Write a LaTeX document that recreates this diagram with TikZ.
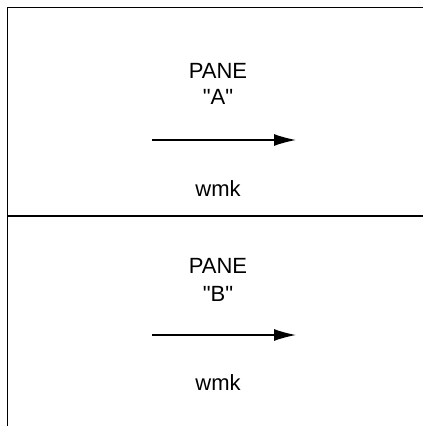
\documentclass[tikz,border=0pt]{standalone}
\usepackage{fontspec}
\setmainfont{Liberation Sans}
\usetikzlibrary{arrows.meta,positioning}

\begin{document}
\begin{tikzpicture}[
x=1pt,y=-1pt,
frame/.style={
  line width=1.2pt
},
label/.style={
  font=\fontsize{22}{26}\selectfont,
  inner sep=0pt,
  anchor=base
},
flow/.style={
  line width=1.4pt,
  -{Latex[length=22pt,width=12pt]}
}
]
\useasboundingbox (0,0) rectangle (423,426);
\clip (0,0) rectangle (423,426);

% the two panes
\draw[frame] (7.5,7.5) rectangle (440,440);
\draw[frame] (7.5,216) -- (440,216);

% pane A
\node[label] (paneA) at (218,78) {PANE};
\node[label] (tagA) at (218,104) {\textquotedbl A\textquotedbl};
\coordinate (startA) at (152,140);
\coordinate (endA) at (296,140);
\draw[flow] (startA) -- (endA);
\node[label] (wmkA) at (218,196) {wmk};

% pane B
\node[label] (paneB) at (218,273) {PANE};
\node[label] (tagB) at (218,301) {\textquotedbl B\textquotedbl};
\coordinate (startB) at (152,335);
\coordinate (endB) at (296,335);
\draw[flow] (startB) -- (endB);
\node[label] (wmkB) at (218,390) {wmk};
\end{tikzpicture}
\end{document}
